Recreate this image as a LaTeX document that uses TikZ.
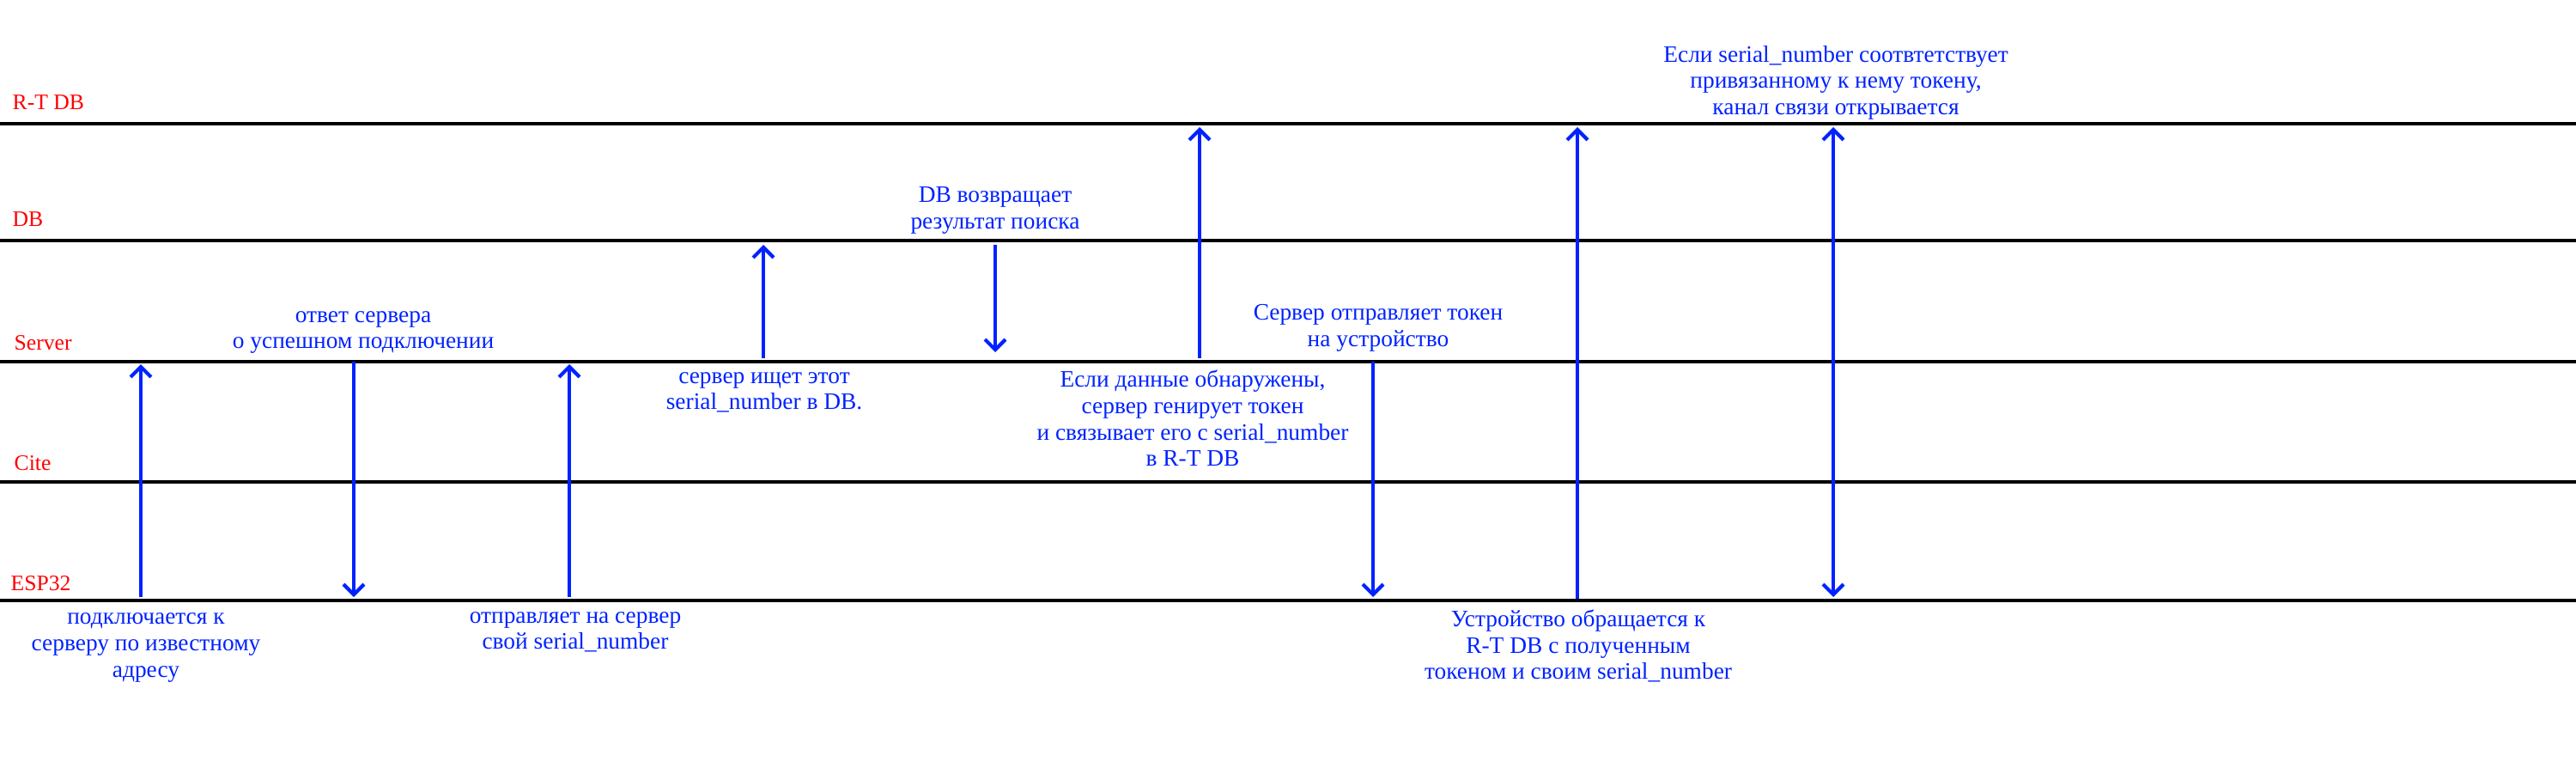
\documentclass[tikz,border=0pt]{standalone}
\usepackage{fontspec}
\setmainfont{Liberation Serif}
\usetikzlibrary{arrows.meta,positioning}
\definecolor{msgblue}{RGB}{0,34,255}
\definecolor{lanered}{RGB}{255,0,0}

\begin{document}
\begin{tikzpicture}[font=\fontsize{7.8}{8.7}\selectfont,
  ar/.style={-{Straight Barb[length=3.4pt,width=6.8pt]},line width=1.2pt,draw=msgblue},
  arr/.style={{Straight Barb[length=3.4pt,width=6.8pt]}-{Straight Barb[length=3.4pt,width=6.8pt]},line width=1.2pt,draw=msgblue},
  lane/.style={line width=1pt,draw=black},
  lname/.style={text=lanered,anchor=base west,inner sep=0pt,font=\fontsize{7.3}{8.7}\selectfont},
  msg/.style={text=msgblue,align=center,inner sep=0pt}]
\useasboundingbox (0,0) rectangle (30,9);

% lanes
\draw[lane] (0,7.56) -- (30,7.56);
\draw[lane] (0,6.20) -- (30,6.20);
\draw[lane] (0,4.79) -- (30,4.79);
\draw[lane] (0,3.39) -- (30,3.39);
\draw[lane] (0,2.01) -- (30,2.01);
\node[lname] (rtdb)   at (0.14,7.72) {R-T DB};
\node[lname] (db)     at (0.14,6.36) {DB};
\node[lname] (server) at (0.16,4.93) {Server};
\node[lname] (cite)   at (0.16,3.53) {Cite};
\node[lname] (esp)    at (0.12,2.13) {ESP32};

% arrow ends
\coordinate (c1a) at (1.64,2.05);  \coordinate (c1b) at (1.64,4.76);
\coordinate (c2a) at (4.12,4.79);  \coordinate (c2b) at (4.12,2.05);
\coordinate (c3a) at (6.63,2.05);  \coordinate (c3b) at (6.63,4.76);
\coordinate (c4a) at (8.89,4.83);  \coordinate (c4b) at (8.89,6.15);
\coordinate (c5a) at (11.59,6.15); \coordinate (c5b) at (11.59,4.90);
\coordinate (c6a) at (13.97,4.83); \coordinate (c6b) at (13.97,7.52);
\coordinate (c7a) at (15.99,4.79); \coordinate (c7b) at (15.99,2.05);
\coordinate (c8a) at (18.37,2.03); \coordinate (c8b) at (18.37,7.52);
\coordinate (c9a) at (21.35,7.52); \coordinate (c9b) at (21.35,2.05);

\draw[ar] (c1a) -- (c1b);
\draw[ar] (c2a) -- (c2b);
\draw[ar] (c3a) -- (c3b);
\draw[ar] (c4a) -- (c4b);
\draw[ar] (c5a) -- (c5b);
\draw[ar] (c6a) -- (c6b);
\draw[ar] (c7a) -- (c7b);
\draw[ar] (c8a) -- (c8b);
\draw[arr] (c9a) -- (c9b);

% messages
\node[msg] (m1) at (1.70,1.46) {подключается к\\серверу по известному\\адресу};
\node[msg] (m2) at (4.23,5.13) {ответ сервера\\о успешном подключении};
\node[msg] (m3) at (6.70,1.64) {отправляет на сервер\\свой serial\_number};
\node[msg] (m4) at (8.90,4.43) {сервер ищет этот\\serial\_number в DB.};
\node[msg] (m5) at (11.59,6.55) {DB возвращает\\результат поиска};
\node[msg] (m6) at (13.89,4.13) {Если данные обнаружены,\\сервер генирует токен\\и связывает его с serial\_number\\в R-T DB};
\node[msg] (m7) at (16.05,5.18) {Сервер отправляет токен\\на устройство};
\node[msg] (m8) at (18.38,1.48) {Устройство обращается к\\R-T DB с полученным\\токеном и своим serial\_number};
\node[msg] (m9) at (21.38,8.04) {Если serial\_number соотвтетствует\\привязанному к нему токену,\\канал связи открывается};
\end{tikzpicture}
\end{document}
